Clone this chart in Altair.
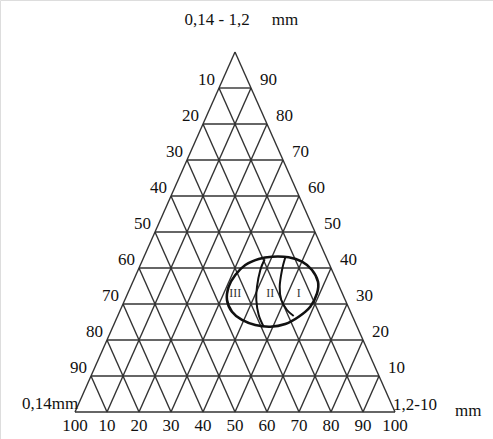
import altair as alt
import pandas as pd

# Ternary grid: X runs along the base (0..100), Y is the height (0..100), apex at (50, 100)
levels = [10, 20, 30, 40, 50, 60, 70, 80, 90]
left_labels = ["90", "80", "70", "60", "50", "40", "30", "20", "10"]   # for rows Y = 10..90
right_labels = ["10", "20", "30", "40", "50", "60", "70", "80", "90"]  # for rows Y = 10..90
bottom_ticks = [0, 10, 20, 30, 40, 50, 60, 70, 80, 90, 100]
bottom_labels = ["100", "10", "20", "30", "40", "50", "60", "70", "80", "90", "100"]

# Outline of the field (hand-traced closed contour) and its two dividing curves
ellipse_x = [47.50, 48.03, 50.09, 53.22, 57.41, 61.56, 66.78, 70.94, 74.06,
             75.94, 75.63, 73.53, 69.91, 65.72, 61.03, 56.34, 52.19, 49.06]
ellipse_y = [31.11, 34.81, 38.06, 40.83, 42.50, 43.14, 42.97, 41.75, 39.44,
             36.19, 32.97, 29.25, 26.47, 24.44, 23.69, 24.17, 25.56, 27.86]
curve1_x = [59.28, 57.91, 56.88, 56.66, 57.41, 58.97]
curve1_y = [42.42, 39.44, 34.81, 31.11, 26.94, 23.69]
curve2_x = [65.72, 64.69, 63.97, 64.47, 66.25, 68.34]
curve2_y = [42.97, 39.44, 34.81, 31.11, 28.33, 26.67]
zone_names = ["III", "II", "I"]
zone_x = [50.1, 61.0, 69.9]
zone_y = [32.97, 32.97, 32.97]

FONT = "Liberation Serif"
GRID = "#333333"

# grid segments
segs = []
# outer triangle
segs += [(0, 0, 100, 0), (0, 0, 50, 100), (100, 0, 50, 100)]
for v in levels:
    segs.append((v / 2, v, 100 - v / 2, v))            # horizontal rows
    segs.append((v, 0, v + (100 - v) / 2, 100 - v))    # parallel to left edge
    segs.append((v, 0, v / 2, v))                      # parallel to right edge
seg_df = pd.DataFrame(segs, columns=["x", "y", "x2", "y2"])

xs = alt.Scale(domain=[-23.4375, 130.625], nice=False, zero=False)
ys = alt.Scale(domain=[-7.5, 412 / 3.6], nice=False, zero=False)
X = lambda f: alt.X(f, type="quantitative", scale=xs, axis=None)
Y = lambda f: alt.Y(f, type="quantitative", scale=ys, axis=None)

grid = alt.Chart(seg_df).mark_rule(color=GRID, strokeWidth=1.4).encode(
    x=X("x"), y=Y("y"), x2="x2", y2="y2"
)

rows_df = pd.DataFrame({
    "y": levels,
    "xl": [v / 2 for v in levels],
    "xr": [100 - v / 2 for v in levels],
    "ll": left_labels,
    "rl": right_labels,
})
txt = dict(font=FONT, fontSize=17, color="#111111", baseline="middle")
left_txt = alt.Chart(rows_df).mark_text(align="right", dx=-4, dy=-8, **txt).encode(
    x=X("xl"), y=Y("y"), text="ll:N"
)
right_txt = alt.Chart(rows_df).mark_text(align="left", dx=9, dy=-8, **txt).encode(
    x=X("xr"), y=Y("y"), text="rl:N"
)
bot_df = pd.DataFrame({"x": bottom_ticks, "t": bottom_labels, "y": [-4.0] * len(bottom_ticks)})
bottom_txt = alt.Chart(bot_df).mark_text(align="center", **txt).encode(
    x=X("x"), y=Y("y"), text="t:N"
)

corner_c = pd.DataFrame({"x": [44.4, 65.6], "y": [108.9, 108.9], "t": ["0,14 - 1,2", "mm"]})
corner_r = pd.DataFrame({"x": [99.4, 118.75], "y": [1.9, 0.3], "t": ["1,2-10", "mm"]})
corner_l = pd.DataFrame({"x": [1.0], "y": [2.2], "t": ["0,14mm"]})
top_txt = alt.Chart(corner_c).mark_text(align="center", **txt).encode(x=X("x"), y=Y("y"), text="t:N")
rc_txt = alt.Chart(corner_r).mark_text(align="left", **txt).encode(x=X("x"), y=Y("y"), text="t:N")
lc_txt = alt.Chart(corner_l).mark_text(align="right", **txt).encode(x=X("x"), y=Y("y"), text="t:N")

ell_df = pd.DataFrame({"x": ellipse_x, "y": ellipse_y, "o": range(len(ellipse_x))})
ellipse = alt.Chart(ell_df).mark_line(
    color="#111", strokeWidth=2.6, interpolate="cardinal-closed"
).encode(x=X("x"), y=Y("y"), order="o:Q")

c_df = pd.DataFrame({
    "x": curve1_x + curve2_x,
    "y": curve1_y + curve2_y,
    "c": ["a"] * len(curve1_x) + ["b"] * len(curve2_x),
    "o": list(range(len(curve1_x))) + list(range(len(curve2_x))),
})
curves = alt.Chart(c_df).mark_line(
    color="#111", strokeWidth=2.0, interpolate="cardinal"
).encode(x=X("x"), y=Y("y"), detail="c:N", order="o:Q")

zone_df = pd.DataFrame({"x": zone_x, "y": zone_y, "t": zone_names})
zones = alt.Chart(zone_df).mark_text(
    font=FONT, fontSize=12, color="#333", baseline="middle", align="center"
).encode(x=X("x"), y=Y("y"), text="t:N")

chart = alt.layer(
    grid, left_txt, right_txt, bottom_txt, top_txt, rc_txt, lc_txt, ellipse, curves, zones
).properties(
    width=493, height=439, padding=0, autosize=alt.AutoSizeParams(type="none")
).configure_view(stroke=None).configure(background="white")

chart.save("out.html", embed_options={"renderer": "svg", "actions": False})
